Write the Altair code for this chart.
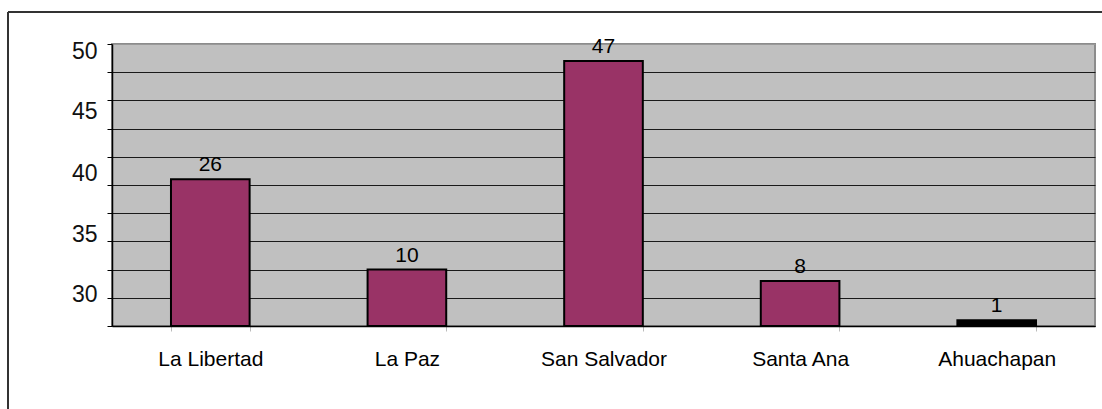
import altair as alt
import pandas as pd

# Data
departamentos = ["La Libertad", "La Paz", "San Salvador", "Santa Ana", "Ahuachapan"]
valores = [26, 10, 47, 8, 1]

# Y axis label texts as printed in the reference and where they sit (data units)
y_label_texts = ["50", "45", "40", "35", "30"]
y_label_positions = [48.6, 38.0, 27.0, 16.3, 5.5]
y_tick_values = list(range(0, 51, 5))

df = pd.DataFrame({"Departamento": departamentos, "Valor": valores})

FONT = "Liberation Sans"
W, H = 983, 282
PAD_L, PAD_T = 112, 44

# build label expression from arrays
expr = "''"
for pos, txt in zip(reversed(y_label_positions), reversed(y_label_texts)):
    expr = f"abs(datum.value - {pos}) < 0.01 ? '{txt}' : ({expr})"

x_enc = alt.X(
    "Departamento:N",
    sort=departamentos,
    scale=alt.Scale(paddingInner=0.6, paddingOuter=0.3),
    axis=alt.Axis(
        title=None,
        labelAngle=0,
        labelFont=FONT,
        labelFontSize=21,
        labelColor="#000",
        labelBaseline="alphabetic",
        labelPadding=34,
        tickBand="extent",
        tickSize=5,
        tickColor="#bbbbbb",
        domainColor="#000",
        domainWidth=1.5,
    ),
)

yscale = alt.Scale(domain=[0, 50], nice=False, zero=True)

bars = alt.Chart(df).mark_bar(stroke="#000", strokeWidth=2).encode(
    x=x_enc,
    y=alt.Y(
        "Valor:Q",
        scale=yscale,
        axis=alt.Axis(
            orient="left",
            title=None,
            values=y_tick_values,
            labels=False,
            tickSize=5,
            tickColor="#000",
            domainColor="#000",
            domainWidth=1.5,
            grid=True,
            gridColor={"condition": {"test": "datum.value == 50", "value": "#999999"}, "value": "#1a1a1a"},
            gridWidth=1,
        ),
    ),
    color=alt.condition(
        "datum.Departamento == 'Ahuachapan'", alt.value("#000000"), alt.value("#993366")
    ),
)

texts = alt.Chart(df).mark_text(
    font=FONT, fontSize=21, color="#000", baseline="alphabetic", dy=-8
).encode(
    x=alt.X("Departamento:N", sort=departamentos),
    y=alt.Y(
        "Valor:Q",
        scale=yscale,
        axis=alt.Axis(
            orient="left",
            title=None,
            values=y_label_positions,
            labelExpr=expr,
            ticks=False,
            domain=False,
            grid=False,
            labelFont=FONT,
            labelFontSize=23,
            labelColor="#111",
            labelPadding=15,
            labelBaseline="middle",
        ),
    ),
    text="Valor:Q",
)

frame_data = alt.Data(values=[{"k": 1}])
frame_left = alt.Chart(frame_data).mark_rule(color="#333", strokeWidth=2).encode(
    x=alt.value(8 - PAD_L), y=alt.value(12 - PAD_T), y2=alt.value(409 - PAD_T + 5)
)
frame_top = alt.Chart(frame_data).mark_rule(color="#333", strokeWidth=2).encode(
    x=alt.value(8 - PAD_L), x2=alt.value(1102 - PAD_L + 5), y=alt.value(12 - PAD_T)
)

chart = (
    alt.layer(bars, texts, frame_left, frame_top)
    .resolve_axis(y="independent")
    .properties(
        width=W,
        height=H,
        autosize=alt.AutoSizeParams(type="none"),
        padding={"left": PAD_L, "top": PAD_T, "right": 1102 - PAD_L - W, "bottom": 409 - PAD_T - H},
        background="#ffffff",
    )
    .configure_view(fill="#c0c0c0", stroke="#8c8c8c", strokeWidth=2)
)

chart.save("out.html", embed_options={"renderer": "svg", "actions": False})
